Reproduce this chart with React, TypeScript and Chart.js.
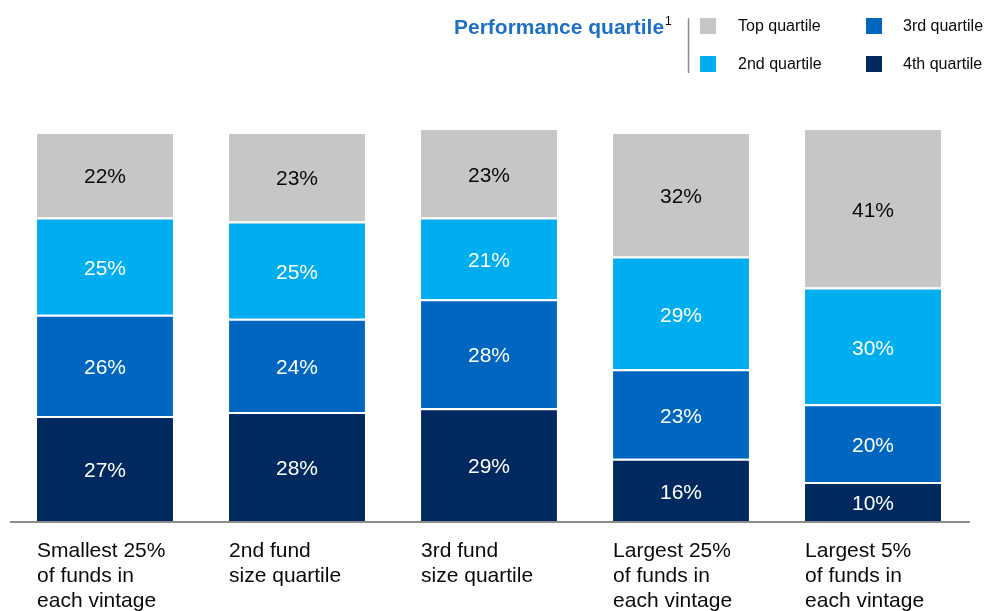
import React, { useEffect, useRef } from "react";
import { Chart, registerables } from "chart.js";
Chart.register(...registerables);

const categories: string[][] = [
  ["Smallest 25%", "of funds in", "each vintage"],
  ["2nd fund", "size quartile"],
  ["3rd fund", "size quartile"],
  ["Largest 25%", "of funds in", "each vintage"],
  ["Largest 5%", "of funds in", "each vintage"],
];
const fourthQuartile = [27, 28, 29, 16, 10];
const thirdQuartile = [26, 24, 28, 23, 20];
const secondQuartile = [25, 25, 21, 29, 30];
const topQuartile = [22, 23, 23, 32, 41];
const seriesNames = ["4th quartile", "3rd quartile", "2nd quartile", "Top quartile"];
const seriesColors = ["#002960", "#0066C0", "#00AEEF", "#C6C6C6"];
const legendTitle = "Performance quartile";
const legendNote = "1";

const FONT = "'Liberation Sans', Arial, sans-serif";

const overlayPlugin = {
  id: "overlay",
  afterDatasetsDraw(chart: any) {
    const ctx = chart.ctx;
    const area = chart.chartArea;
    ctx.save();
    // value labels
    ctx.font = `21px ${FONT}`;
    ctx.textAlign = "center";
    ctx.textBaseline = "middle";
    chart.data.datasets.forEach((ds: any, i: number) => {
      const meta = chart.getDatasetMeta(i);
      meta.data.forEach((el: any, j: number) => {
        const v = ds.data[j];
        ctx.fillStyle = i === 3 ? "#0A0A0A" : "#FFFFFF";
        ctx.fillText(`${v}%`, el.x, (el.y + el.base) / 2 + 3);
      });
    });
    // baseline
    ctx.strokeStyle = "#8C8C8C";
    ctx.lineWidth = 2;
    ctx.beginPath();
    ctx.moveTo(area.left + 1, area.bottom + 1);
    ctx.lineTo(area.right + 1, area.bottom + 1);
    ctx.stroke();
    // category labels
    ctx.fillStyle = "#0A0A0A";
    ctx.textAlign = "left";
    ctx.font = `21px ${FONT}`;
    const meta0 = chart.getDatasetMeta(0);
    meta0.data.forEach((el: any, j: number) => {
      const left = el.x - el.width / 2;
      categories[j].forEach((line, k) => {
        ctx.fillText(line, left, area.bottom + 30 + k * 25);
      });
    });
    // legend
    ctx.textBaseline = "middle";
    ctx.font = `bold 21px ${FONT}`;
    ctx.fillStyle = "#1D70C4";
    ctx.textAlign = "left";
    ctx.fillText(legendTitle, 454, 28);
    const tw = ctx.measureText(legendTitle).width;
    ctx.font = `12px ${FONT}`;
    ctx.fillStyle = "#0A0A0A";
    ctx.fillText(legendNote, 454 + tw + 1, 22);
    ctx.strokeStyle = "#8C8C8C";
    ctx.lineWidth = 1.5;
    ctx.beginPath();
    ctx.moveTo(688.5, 18);
    ctx.lineTo(688.5, 73);
    ctx.stroke();
    const items = [
      { idx: 3, sx: 700, tx: 738, y: 26 },
      { idx: 1, sx: 866, tx: 903, y: 26 },
      { idx: 2, sx: 700, tx: 738, y: 64 },
      { idx: 0, sx: 866, tx: 903, y: 64 },
    ];
    ctx.font = `16px ${FONT}`;
    items.forEach((it) => {
      ctx.fillStyle = seriesColors[it.idx];
      ctx.fillRect(it.sx, it.y - 8, 16, 16);
      ctx.fillStyle = "#0A0A0A";
      ctx.fillText(seriesNames[it.idx], it.tx, it.y + 1);
    });
    ctx.restore();
  },
};

export default function App() {
  const ref = useRef<HTMLCanvasElement | null>(null);
  useEffect(() => {
    if (!ref.current) return;
    const values = [fourthQuartile, thirdQuartile, secondQuartile, topQuartile];
    const chart = new Chart(ref.current, {
      type: "bar",
      data: {
        labels: categories.map((c) => c.join(" ")),
        datasets: values.map((d, i) => ({
          label: seriesNames[i],
          data: d,
          backgroundColor: seriesColors[i],
          borderColor: "#FFFFFF",
          borderWidth: { top: 2, bottom: 0, left: 0, right: 0 },
          borderSkipped: false,
          categoryPercentage: 1,
          barPercentage: 0.708,
        })),
      },
      options: {
        animation: false,
        responsive: false,
        maintainAspectRatio: false,
        layout: { padding: { top: 128, bottom: 90, left: 9, right: 16 } },
        plugins: { legend: { display: false }, tooltip: { enabled: false } },
        scales: {
          x: { stacked: true, display: false },
          y: { stacked: true, display: false, min: 0, max: 101 },
        },
      },
      plugins: [overlayPlugin],
    });
    return () => chart.destroy();
  }, []);
  return (
    <div style={{ position: "fixed", left: 0, top: 0, width: 985, height: 611, background: "#fff" }}>
      <canvas ref={ref} width={985} height={611} style={{ display: "block", width: 985, height: 611 }} />
    </div>
  );
}
